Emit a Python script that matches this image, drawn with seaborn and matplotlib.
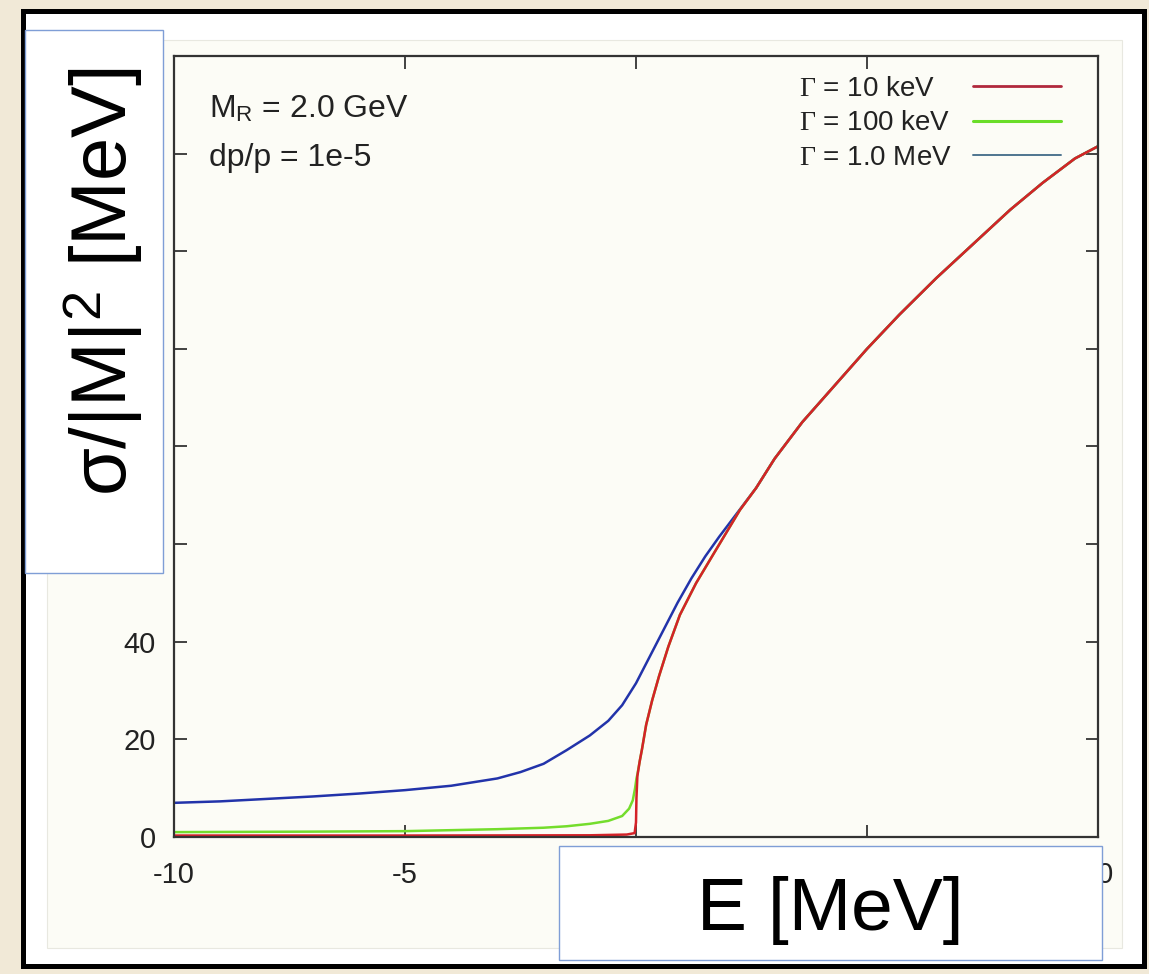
import numpy as np
import pandas as pd
import matplotlib
matplotlib.use("Agg")
import matplotlib.pyplot as plt
from matplotlib.patches import Rectangle
from matplotlib.lines import Line2D
import seaborn as sns

# ---------------- data ----------------
series_names = ["Γ = 1.0 MeV", "Γ = 100 keV", "Γ = 10 keV"]

# common part of all three curves above threshold (curves coincide there)
E_tail = [2.6, 3.0, 3.6, 4.3, 5.0, 5.7, 6.5, 7.3, 8.1, 8.8, 9.5, 10]
S_tail = [71.5, 77.5, 85, 92.5, 100, 107, 114.5, 121.5, 128.5, 134, 139, 141.5]

# Γ = 10 keV (red)
E_red_head = [-10, -5, -1, -0.2, -0.03, 0.0, 0.01, 0.03, 0.08, 0.13, 0.22, 0.35,
              0.5, 0.7, 0.95, 1.3, 1.71, 2.25]
S_red_head = [0.3, 0.3, 0.35, 0.5, 0.8, 3, 8, 12.5, 15.5, 18, 23, 28,
              33, 39, 45.5, 52, 58.5, 67]

# Γ = 100 keV (green)
E_green_head = [-10, -7, -5, -3, -2, -1.5, -1.0, -0.6, -0.3, -0.15, -0.07, -0.02,
                0.01, 0.03]
S_green_head = [1.0, 1.1, 1.2, 1.6, 1.9, 2.2, 2.7, 3.3, 4.3, 5.8, 7.5, 10,
                12, 12.8]

# Γ = 1.0 MeV (blue)
E_blue_head = [-10, -9, -8, -7, -6, -5, -4, -3, -2.5, -2, -1.5, -1.0, -0.6,
               -0.3, 0.0, 0.3, 0.6, 0.9, 1.2, 1.5, 1.8, 2.2]
S_blue_head = [7.0, 7.3, 7.8, 8.3, 8.9, 9.6, 10.5, 12.0, 13.3, 15.0, 17.8, 20.8,
               23.8, 27, 31.5, 37, 42.5, 48, 53, 57.5, 61.5, 66.5]

E_red = E_red_head + E_tail
S_red = S_red_head + S_tail
E_green = E_green_head + E_red_head[8:] + E_tail
S_green = S_green_head + S_red_head[8:] + S_tail
E_blue = E_blue_head + E_tail
S_blue = S_blue_head + S_tail

x_ticks = [-10, -5, 0, 5, 10]
x_tick_labels = ["-10", "-5", "0", "5", "10"]
y_ticks = [0, 20, 40, 60, 80, 100, 120, 140]
y_tick_labels = ["0", "20", "40", "60", "80", "100", "120", "140"]
# tick labels that lie under the pasted label boxes in the reference
covered_labels = {"60", "80", "100", "120", "140", "0x", "5x"}

legend_labels = [r"$\Gamma$ = 10 keV", r"$\Gamma$ = 100 keV", r"$\Gamma$ = 1.0 MeV"]
annotation_lines = [r"M$_\mathregular{R}$ = 2.0 GeV", "dp/p = 1e-5"]
x_label = "E [MeV]"
y_label = r"σ/|M|$^\mathregular{2}$ [MeV]"

# ---------------- styling ----------------
sns.set_style("ticks")
plt.rcParams["font.family"] = ["Liberation Sans", "DejaVu Sans"]
plt.rcParams["mathtext.fontset"] = "custom"
plt.rcParams["mathtext.rm"] = "Liberation Serif"
plt.rcParams["mathtext.it"] = "Liberation Serif:italic"

W, H = 1149, 974
def fx(x):
    return x / W
def fy(y):
    return 1 - y / H
def frect(x0, y0, x1, y1, **kw):
    return Rectangle((fx(x0), fy(y1)), (x1 - x0) / W, (y1 - y0) / H,
                     transform=fig.transFigure, **kw)

fig = plt.figure(figsize=(W / 100, H / 100), dpi=100)
fig.patch.set_facecolor("#F1E9D7")

# slide frame and chart picture background
fig.patches.append(frect(22.5, 10.5, 1143.5, 965.5, facecolor="white",
                         edgecolor="black", linewidth=3.6, zorder=-10))
cream = "#FCFCF6"
fig.patches.append(frect(47, 40, 1122, 948, facecolor=cream,
                         edgecolor="#E8E8E0", linewidth=0.8, zorder=-9))

ax_l, ax_r, ax_t, ax_b = 174, 1098, 56, 837
ax = fig.add_axes([fx(ax_l), fy(ax_b), (ax_r - ax_l) / W, (ax_b - ax_t) / H])
ax.set_facecolor(cream)

df = pd.concat([
    pd.DataFrame({"E": E_blue, "sigma": S_blue, "width": series_names[0]}),
    pd.DataFrame({"E": E_green, "sigma": S_green, "width": series_names[1]}),
    pd.DataFrame({"E": E_red, "sigma": S_red, "width": series_names[2]}),
], ignore_index=True)

palette = {series_names[0]: "#2233AA", series_names[1]: "#74DD2C",
           series_names[2]: "#D42228"}
sns.lineplot(data=df, x="E", y="sigma", hue="width", hue_order=series_names,
             palette=palette, sort=False, estimator=None, linewidth=1.8,
             legend=False, ax=ax)

ax.set_xlim(-10, 10)
ax.set_ylim(0, 160)
ax.set_xticks(x_ticks)
ax.set_xticklabels(x_tick_labels)
ax.set_yticks(y_ticks)
ax.set_yticklabels(y_tick_labels)
ax.set_xlabel("")
ax.set_ylabel("")
for lab in ax.get_yticklabels():
    if lab.get_text() in covered_labels:
        lab.set_visible(False)
for lab in ax.get_xticklabels():
    if lab.get_text() + "x" in covered_labels:
        lab.set_visible(False)
for s in ax.spines.values():
    s.set_visible(True)
    s.set_linewidth(1.6)
    s.set_color("#333333")
ax.tick_params(direction="in", length=9, width=1.3, color="#333333",
               labelcolor="#222222", labelsize=21, top=True, right=True)
ax.tick_params(axis="x", pad=17)
ax.tick_params(axis="y", pad=13)

# annotation
for txt, yb in zip(annotation_lines, [117, 166]):
    ax.text((209 - ax_l) / (ax_r - ax_l), (ax_b - yb) / (ax_b - ax_t), txt,
            transform=ax.transAxes, fontsize=23, color="#222222",
            ha="left", va="baseline")

# legend (gnuplot style: text then line sample)
handles = [Line2D([], [], color="#B0283C", linewidth=2.0),
           Line2D([], [], color="#6ADD28", linewidth=2.2),
           Line2D([], [], color="#4E7590", linewidth=1.4)]
leg = ax.legend(handles, legend_labels, loc="upper right",
                bbox_to_anchor=((1061 - ax_l) / (ax_r - ax_l), (ax_b - 76) / (ax_b - ax_t)),
                frameon=False, markerfirst=False, fontsize=20, handlelength=3.17,
                handletextpad=0.75, labelspacing=0.30, borderpad=0, borderaxespad=0)
for t in leg.get_texts():
    t.set_color("#222222")

# left-justify the legend texts (gnuplot style) while keeping the line samples aligned
fig.canvas.draw()
renderer = fig.canvas.get_renderer()
widths = [t.get_window_extent(renderer).width for t in leg.get_texts()]
wmax = max(widths)
for t, w in zip(leg.get_texts(), widths):
    t.set_x(-(wmax - w))

# overlay label boxes
box_ec = "#7F9ED6"
fig.patches.append(frect(25, 30, 163, 573, facecolor="white", edgecolor=box_ec,
                         linewidth=1.0, zorder=10))
fig.patches.append(frect(559, 846, 1102, 960, facecolor="white", edgecolor=box_ec,
                         linewidth=1.0, zorder=10))
fig.text(fx(830), fy(930), x_label, ha="center", va="baseline", fontsize=54,
         color="black", zorder=11)
fig.text(fx(127), fy(282), y_label, rotation=90, rotation_mode="anchor",
         ha="center", va="baseline", fontsize=56, color="black", zorder=11)

fig.savefig("out.png", dpi=100, facecolor=fig.get_facecolor())
